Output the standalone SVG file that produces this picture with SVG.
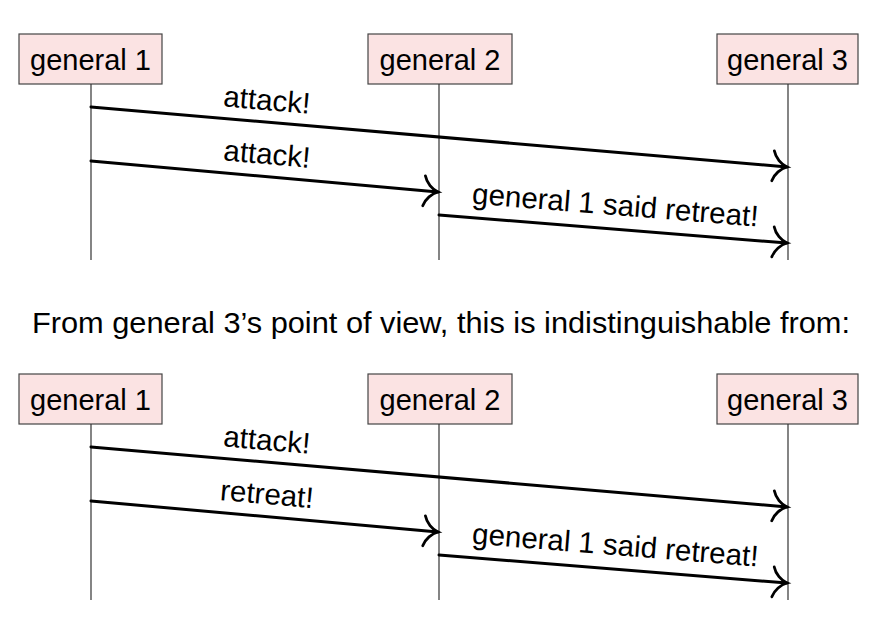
<svg xmlns="http://www.w3.org/2000/svg" width="878" height="617" viewBox="0 0 878 617">
<style>
  .box { fill: #fbe3e3; stroke: #444; stroke-width: 1.2; }
  .life { stroke: #333; stroke-width: 1.2; fill: none; }
  .msg { stroke: #000; stroke-width: 3; fill: none; stroke-linecap: round; marker-end: url(#to); }
  .nt { font-family: "Liberation Sans", Arial, sans-serif; font-size: 29px; fill: #000; text-anchor: middle; }
  .lbl { font-family: "Liberation Sans", Arial, sans-serif; font-size: 29.5px; fill: #000; text-anchor: middle; }
  .cap { font-family: "Liberation Sans", Arial, sans-serif; font-size: 29px; fill: #000; text-anchor: middle; }
</style>
<defs>
  <marker id="to" markerUnits="userSpaceOnUse" markerWidth="40" markerHeight="40" viewBox="-20 -20 40 40" refX="0" refY="0" orient="auto" overflow="visible">
    <path d="M -14 -15 C -12 -8 -6 -2 0 0 C -6 2 -12 8 -14 15" fill="none" stroke="#000" stroke-width="2.8" stroke-linecap="round"/>
  </marker>
</defs>

<!-- top diagram -->
<g id="top-g1">
  <rect class="box" x="19" y="34" width="143" height="50"/>
  <text class="nt" x="90.5" y="70">general 1</text>
  <line class="life" x1="91" y1="84" x2="91" y2="260"/>
</g>
<g id="top-g2">
  <rect class="box" x="368" y="34" width="144" height="50"/>
  <text class="nt" x="440" y="70">general 2</text>
  <line class="life" x1="439" y1="84" x2="439" y2="260"/>
</g>
<g id="top-g3">
  <rect class="box" x="717" y="34" width="141" height="50"/>
  <text class="nt" x="787.5" y="70">general 3</text>
  <line class="life" x1="788" y1="84" x2="788" y2="260"/>
</g>
<g id="top-connectors">
  <line class="msg" x1="91" y1="107" x2="787" y2="167"/>
  <line class="msg" x1="91" y1="161" x2="438" y2="192"/>
  <line class="msg" x1="439" y1="215" x2="787" y2="243"/>
  <text class="lbl" x="265" y="110" transform="rotate(4.92 265 122)">attack!</text>
  <text class="lbl" x="265" y="164" transform="rotate(5.09 265 176.5)">attack!</text>
  <text class="lbl" x="613.5" y="215" transform="rotate(4.59 613.5 229)">general 1 said retreat!</text>
</g>

<text class="cap" x="441" y="333" textLength="818" lengthAdjust="spacingAndGlyphs">From general 3’s point of view, this is indistinguishable from:</text>

<!-- bottom diagram -->
<g id="bot-g1">
  <rect class="box" x="19" y="374" width="143" height="50"/>
  <text class="nt" x="90.5" y="410">general 1</text>
  <line class="life" x1="91" y1="424" x2="91" y2="600"/>
</g>
<g id="bot-g2">
  <rect class="box" x="368" y="374" width="144" height="50"/>
  <text class="nt" x="440" y="410">general 2</text>
  <line class="life" x1="439" y1="424" x2="439" y2="600"/>
</g>
<g id="bot-g3">
  <rect class="box" x="717" y="374" width="141" height="50"/>
  <text class="nt" x="787.5" y="410">general 3</text>
  <line class="life" x1="788" y1="424" x2="788" y2="600"/>
</g>
<g id="bot-connectors">
  <line class="msg" x1="91" y1="447" x2="787" y2="507"/>
  <line class="msg" x1="91" y1="501" x2="438" y2="532"/>
  <line class="msg" x1="439" y1="555" x2="787" y2="583"/>
  <text class="lbl" x="265" y="450" transform="rotate(4.92 265 462)">attack!</text>
  <text class="lbl" x="265" y="504" transform="rotate(5.09 265 516.5)">retreat!</text>
  <text class="lbl" x="613.5" y="555" transform="rotate(4.59 613.5 569)">general 1 said retreat!</text>
</g>
</svg>
